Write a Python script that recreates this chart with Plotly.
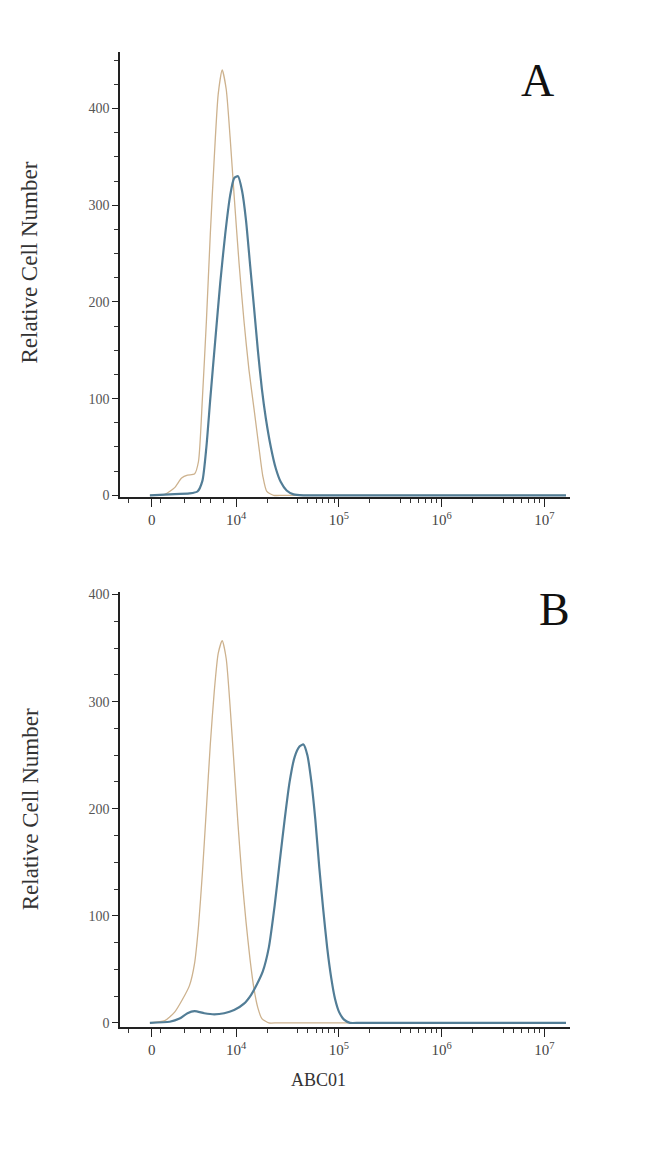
import plotly.graph_objects as go

# x values are in display decades (log10 of fluorescence; 0 is drawn at 3.18)
a_orange_x = [3.161, 3.306, 3.402, 3.470, 3.527, 3.595, 3.634, 3.672, 3.711, 3.749, 3.788, 3.826, 3.865,
              3.904, 3.942, 3.981, 4.029, 4.077, 4.125, 4.174, 4.222, 4.260, 4.299, 4.366, 4.45, 4.6,
              5.0, 5.6, 6.4, 7.211]
a_orange_y = [0, 1, 8, 18, 21, 22, 35, 100, 180, 270, 350, 415, 440,
              420, 370, 310, 240, 180, 130, 90, 50, 20, 4, 0, 0, 0,
              0, 0, 0, 0]

a_blue_x = [3.161, 3.354, 3.547, 3.624, 3.672, 3.711, 3.749, 3.797, 3.846, 3.894, 3.942, 3.981, 4.019,
            4.058, 4.096, 4.135, 4.174, 4.212, 4.251, 4.289, 4.338, 4.386, 4.434, 4.492, 4.559, 4.656,
            4.75, 4.9, 5.3, 5.9, 6.6, 7.211]
a_blue_y = [0, 1, 2, 4, 15, 50, 100, 160, 220, 270, 310, 328, 330,
            315, 285, 240, 195, 150, 110, 80, 50, 28, 14, 5, 1, 0,
            0, 0, 0, 0, 0, 0]

b_orange_x = [3.161, 3.306, 3.402, 3.479, 3.547, 3.595, 3.634, 3.672, 3.711, 3.749, 3.788, 3.826, 3.865,
              3.904, 3.942, 3.981, 4.019, 4.058, 4.096, 4.135, 4.174, 4.212, 4.251, 4.318, 4.4, 4.55,
              4.9, 5.5, 6.3, 7.211]
b_orange_y = [0, 2, 10, 22, 35, 55, 90, 140, 200, 260, 310, 345, 357,
              340, 295, 240, 185, 135, 95, 60, 32, 14, 4, 0, 0, 0,
              0, 0, 0, 0]

b_blue_x = [3.161, 3.354, 3.450, 3.527, 3.595, 3.691, 3.788, 3.884, 3.981, 4.077, 4.145, 4.203, 4.260,
            4.318, 4.376, 4.424, 4.473, 4.521, 4.569, 4.617, 4.656, 4.694, 4.733, 4.771, 4.810, 4.849,
            4.887, 4.926, 4.964, 5.003, 5.051, 5.109, 5.2, 5.35, 5.7, 6.3, 7.211]
b_blue_y = [0, 1, 4, 9, 11, 9, 8, 9, 12, 18, 26, 36, 48,
            70, 110, 150, 190, 225, 248, 258, 260, 250, 225, 190, 145, 105,
            70, 42, 22, 10, 3, 0, 0, 0, 0, 0, 0]

x_tick_vals = [3.18, 4, 5, 6, 7]
x_tick_text = ["0", "10<sup>4</sup>", "10<sup>5</sup>", "10<sup>6</sup>", "10<sup>7</sup>"]
x_minor_vals = [2.95, 3.26, 3.50, 3.65, 3.75, 3.88] + [
    k + m for k in (4, 5, 6) for m in (0.301, 0.602, 0.699, 0.778, 0.845, 0.903, 0.954)]
y_tick_vals = [0, 100, 200, 300, 400]

ORANGE = "#cdb28e"
BLUE = "#527d96"
FONT = "Liberation Serif"

fig = go.Figure()
for xs, ys, col, w, xa, ya in [
    (a_orange_x, a_orange_y, ORANGE, 1.3, "x", "y"),
    (a_blue_x, a_blue_y, BLUE, 2.2, "x", "y"),
    (b_orange_x, b_orange_y, ORANGE, 1.3, "x2", "y2"),
    (b_blue_x, b_blue_y, BLUE, 2.2, "x2", "y2"),
]:
    fig.add_trace(go.Scatter(x=xs, y=ys, mode="lines",
                             line=dict(color=col, width=w, shape="spline", smoothing=0.6),
                             xaxis=xa, yaxis=ya, showlegend=False))

xcommon = dict(range=[2.87, 7.25], tickmode="array", tickvals=x_tick_vals, ticktext=x_tick_text,
               ticks="outside", ticklen=8, tickwidth=1.2, tickcolor="#222",
               showline=True, linecolor="#222", linewidth=1.5, showgrid=False, zeroline=False,
               tickfont=dict(family=FONT, size=15, color="#444"),
               minor=dict(tickvals=x_minor_vals, ticks="outside", ticklen=4, tickcolor="#333", tickwidth=1),
               domain=[0.1846, 0.8769])
ycommon = dict(tickmode="array", tickvals=y_tick_vals, ticks="outside", ticklen=6, tickwidth=1.2,
               tickcolor="#222", showline=True, linecolor="#222", linewidth=1.5, showgrid=False,
               zeroline=False, tickfont=dict(family=FONT, size=14, color="#555"),
               minor=dict(dtick=25, ticks="outside", ticklen=4, tickcolor="#333"))

title_font = dict(family=FONT, size=23, color="#333")
fig.update_layout(
    width=650, height=1150, margin=dict(l=0, r=0, t=0, b=0),
    paper_bgcolor="white", plot_bgcolor="white",
    xaxis=dict(**xcommon, anchor="y"),
    yaxis=dict(**ycommon, range=[-2, 458], domain=[0.5678, 0.9583], anchor="x"),
    xaxis2=dict(**xcommon, anchor="y2"),
    yaxis2=dict(**ycommon, range=[-4, 402], domain=[0.1026, 0.4843], anchor="x2"),
    annotations=[
        dict(text="A", x=537 / 650, y=1 - 76 / 1150, xref="paper", yref="paper", showarrow=False,
             xanchor="center", yanchor="middle", font=dict(family=FONT, size=46, color="#111")),
        dict(text="B", x=554 / 650, y=1 - 610 / 1150, xref="paper", yref="paper", showarrow=False,
             xanchor="center", yanchor="middle", font=dict(family=FONT, size=46, color="#111")),
        dict(text="Relative Cell Number", x=30 / 650, y=1 - 260 / 1150, xref="paper", yref="paper",
             showarrow=False, textangle=-90, xanchor="center", yanchor="middle", font=title_font),
        dict(text="Relative Cell Number", x=30 / 650, y=1 - 812 / 1150, xref="paper", yref="paper",
             showarrow=False, textangle=-90, xanchor="center", yanchor="middle", font=title_font),
        dict(text="ABC01", x=318 / 650, y=1 - 1085 / 1150, xref="paper", yref="paper",
             showarrow=False, xanchor="center", yanchor="middle",
             font=dict(family=FONT, size=18, color="#333")),
    ],
)

fig.write_html("out.html", config={"displayModeBar": False},
               post_script="document.body.style.margin='0px';")
